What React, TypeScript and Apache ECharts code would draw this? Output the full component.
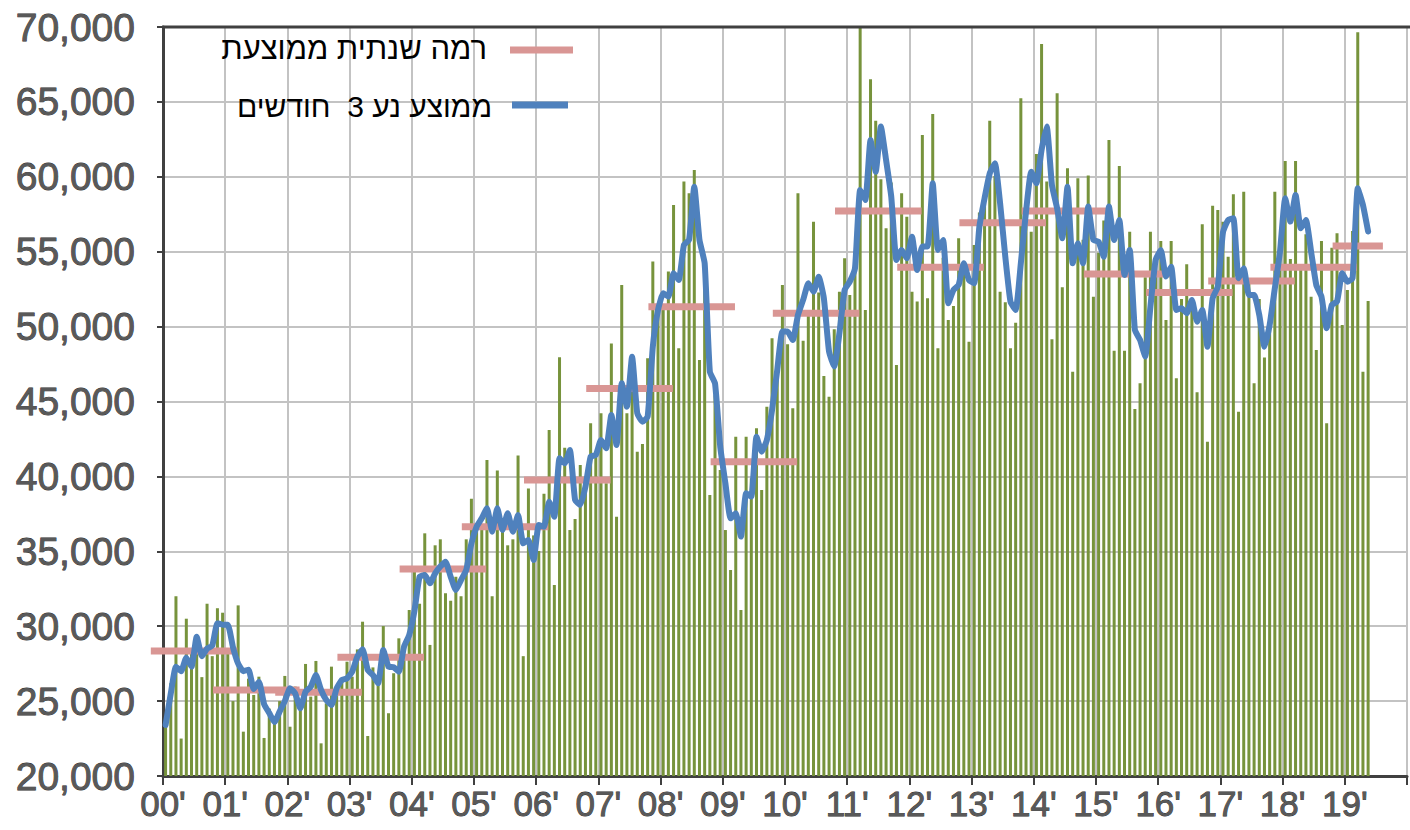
import React, { useEffect, useRef } from "react";
import * as echarts from "echarts";

// Year tick labels (one per January)
const yearLabels = [
  "00'", "01'", "02'", "03'", "04'", "05'", "06'", "07'", "08'", "09'",
  "10'", "11'", "12'", "13'", "14'", "15'", "16'", "17'", "18'", "19'",
];

// Monthly values, Jan 2000 .. May 2019 (one row per year)
const monthlyValues = [
  23300, 26200, 32000, 22500, 30500, 28500, 28900, 26600, 31500, 28000, 31200, 30900,
  28500, 25000, 31390, 22960, 26500, 25410, 26630, 22540, 24500, 24000, 25000, 26680,
  23290, 25970, 24410, 27480, 25300, 27680, 22180, 24850, 27300, 25400, 26530, 27630,
  26630, 28450, 30300, 22670, 27250, 26410, 30010, 24190, 26860, 29190, 27970, 31080,
  34000, 31500, 36200, 28750, 35400, 35800, 32200, 31700, 33300, 32000, 35800, 38500,
  36500, 36600, 41100, 32000, 40400, 36860, 35400, 35800, 41400, 28000, 39200, 36060,
  35020, 38840, 43100, 32750, 47950, 41910, 36420, 37160, 40760, 40010, 43540, 41300,
  44210, 39540, 48880, 37310, 52780, 44210, 46980, 41650, 42160, 47880, 54340, 51110,
  51210, 53680, 58120, 48550, 59680, 58900, 60460, 47770, 54460, 38760, 45410, 40430,
  36420, 33750, 42650, 31080, 42650, 39870, 43210, 39090, 44650, 49220, 47400, 52780,
  48830, 44550, 58900, 49060, 50710, 57000, 52280, 46700, 45320, 49820, 52330, 54560,
  52110, 55000, 70000, 51110, 66510, 63750, 59830, 56560, 59620, 47440, 58900, 57340,
  52330, 51670, 62790, 51890, 64200, 48550, 54590, 50440, 51380, 55900, 54340, 48990,
  55450, 57610, 58900, 63750, 60050, 52330, 51630, 48550, 50260, 65240, 57540, 56340,
  61520, 68870, 59680, 49150, 65570, 52620, 60570, 46990, 59900, 55800, 60080, 52000,
  54930, 57080, 62460, 48390, 60720, 48390, 56340, 44500, 46210, 53290, 56340, 53720,
  55720, 50440, 55720, 46550, 51850, 54160, 51560, 45610, 56830, 42320, 58070, 57790,
  57000, 54670, 58830, 44320, 59010, 53000, 46210, 51850, 47930, 50550, 59010, 55440,
  61060, 54520, 61060, 54130, 56170, 52000, 48440, 55720, 43540, 55270, 56230, 50110,
  52450, 56380, 69650, 46990, 51710,
];

// 3-month moving average
const movingAverage = [
  23400, 25500, 27300, 27000, 27900, 27300, 29300, 28000, 28500, 28700, 30200, 30100,
  30100, 28600, 27500, 27000, 27100, 25800, 26300, 24800, 24200, 23600, 24300, 25000,
  25850, 25520, 24520, 25630, 25960, 26740, 25740, 25070, 24740, 25850, 26410, 26520,
  26960, 27970, 28460, 27080, 26740, 26190, 28410, 27300, 27260, 26960, 28630, 29410,
  31000, 33300, 33420, 32860, 33530, 33980, 34310, 33300, 32420, 33080, 33750, 35530,
  36640, 37200, 37870, 36310, 37870, 36420, 37540, 36310, 37430, 35530, 35760, 34420,
  36760, 36640, 38310, 37310, 41210, 40870, 41760, 38430, 38090, 39310, 41320, 41430,
  42430, 41880, 44100, 42100, 46210, 44650, 47990, 44210, 43650, 43990, 48660, 51110,
  52220, 52000, 53560, 53110, 55450, 55800, 59340, 55780, 54230, 46990, 46210, 41990,
  39540, 37200, 37540, 35980, 38870, 38650, 42650, 41650, 42430, 44430, 47100, 49670,
  49670, 49100, 50770, 51780, 52890, 52330, 53330, 51890, 48330, 47330, 49560, 52440,
  53000, 53890, 59120, 58450, 62460, 60340, 63350, 61120, 58670, 54450, 55120, 54560,
  56000, 53780, 55340, 55340, 59570, 55120, 55780, 51560, 52440, 52780, 54230, 53110,
  52900, 56670, 58570, 60230, 60900, 58230, 54670, 51670, 51110, 54230, 57680, 60340,
  59570, 61790, 63350, 59450, 57900, 55900, 59340, 54230, 55560, 54230, 58010, 55780,
  55670, 54670, 58010, 55780, 57120, 53450, 55120, 49780, 49110, 48000, 51330, 54450,
  55120, 53340, 54000, 51110, 51220, 50890, 51780, 50330, 51110, 48660, 51890, 52670,
  56300, 57120, 57230, 53230, 53890, 52110, 52110, 50780, 48660, 50110, 52560, 55000,
  58570, 57010, 58790, 56570, 57120, 55000, 52780, 52000, 49890, 51450, 51670, 53560,
  52990, 53230, 59230, 58120, 56350,
];

// Annual average level (pink dashes), 2000 .. 2019
const annualAverage = [
  28345, 25740, 25590, 27920, 33820, 36640, 39760, 45860, 51330, 40980,
  50890, 57720, 53960, 56940, 57720, 53510, 52270, 53050, 53960, 55380,
];

const legendAnnual = "רמה שנתית ממוצעת";
const legendMoving = "ממוצע נע 3  חודשים";

const GREEN = "#77933c";
const PINK = "#d99694";
const BLUE = "#4f81bd";
const FONT = "'Liberation Sans', Arial, sans-serif";
const NARROW = "'Liberation Sans Narrow', 'Arial Narrow', 'Liberation Sans', sans-serif";

export default function App() {
  const ref = useRef<HTMLDivElement>(null);

  useEffect(() => {
    if (!ref.current) return;
    const chart = echarts.init(ref.current, null, { renderer: "svg" });

    const barData = monthlyValues.map((v, i) => [i + 0.5, v]);
    const maData = movingAverage.map((v, i) => [i + 0.5, v]);
    const annualData = annualAverage.map((v, y) => {
      const start = y * 12;
      const n = Math.min(12, monthlyValues.length - start);
      return [start, start + n, v];
    });
    const EXT = 2.35; // dash overhang, in months

    chart.setOption({
      animation: false,
      grid: { left: 163, right: 2, top: 27, bottom: 54, containLabel: false },
      xAxis: {
        type: "value",
        min: 0,
        max: 240,
        interval: 12,
        axisLine: { show: true, onZero: false, lineStyle: { color: "#404040", width: 3 } },
        axisTick: { show: true, length: 9, lineStyle: { color: "#404040", width: 2 } },
        axisLabel: {
          formatter: (v: number) => (v < 240 ? yearLabels[Math.round(v / 12)] : ""),
          fontFamily: NARROW,
          fontSize: 35,
          color: "#595959",
          textBorderColor: "#2a2a2a",
          textBorderWidth: 0.8,
          margin: 10,
        },
        splitLine: { show: true, lineStyle: { color: "#c3c3c3", width: 2 } },
      },
      yAxis: {
        type: "value",
        min: 20000,
        max: 70000,
        interval: 5000,
        axisLine: { show: true, lineStyle: { color: "#404040", width: 3 } },
        axisTick: { show: true, length: 6, lineStyle: { color: "#404040", width: 2 } },
        axisLabel: {
          formatter: (v: number) => v.toLocaleString("en-US"),
          fontFamily: NARROW,
          fontSize: 39,
          color: "#595959",
          textBorderColor: "#2a2a2a",
          textBorderWidth: 0.8,
          margin: 28,
        },
        splitLine: { show: true, lineStyle: { color: "#c3c3c3", width: 2 } },
      },
      graphic: [
        {
          type: "line",
          shape: { x1: 162, y1: 27, x2: 1410, y2: 27 },
          style: { stroke: "#404040", lineWidth: 3 },
          z: 10,
        },
        {
          type: "line",
          shape: { x1: 510, y1: 50, x2: 573, y2: 50 },
          style: { stroke: PINK, lineWidth: 7 },
          z: 10,
        },
        {
          type: "text",
          x: 487,
          y: 48,
          style: {
            text: legendAnnual,
            fontFamily: FONT,
            fontSize: 31,
            fill: "#000",
            textAlign: "right",
            textVerticalAlign: "middle",
          },
          z: 10,
        },
        {
          type: "line",
          shape: { x1: 512, y1: 105, x2: 568, y2: 105 },
          style: { stroke: BLUE, lineWidth: 7 },
          z: 10,
        },
        {
          type: "text",
          x: 492,
          y: 106,
          style: {
            text: legendMoving,
            fontFamily: FONT,
            fontSize: 30,
            fill: "#000",
            textAlign: "right",
            textVerticalAlign: "middle",
          },
          z: 10,
        },
      ],
      series: [
        {
          type: "bar",
          data: barData,
          barWidth: 3,
          itemStyle: { color: GREEN },
          z: 2,
        },
        {
          type: "custom",
          data: annualData,
          encode: { x: [0, 1], y: 2 },
          clip: false,
          z: 3,
          renderItem: (params: any, api: any) => {
            const s = api.value(0);
            const e = api.value(1);
            const v = api.value(2);
            const p1 = api.coord([s - EXT, v]);
            const p2 = api.coord([e + EXT, v]);
            return {
              type: "line",
              shape: { x1: p1[0], y1: p1[1], x2: p2[0], y2: p2[1] },
              style: { stroke: PINK, lineWidth: 7 },
            };
          },
        },
        {
          type: "line",
          data: maData,
          showSymbol: false,
          symbol: "none",
          smooth: 0.15,
          lineStyle: { color: BLUE, width: 6, join: "round", cap: "round" },
          z: 4,
        },
      ],
    });

    return () => chart.dispose();
  }, []);

  return <div ref={ref} style={{ width: 1410, height: 830, position: "absolute", left: 0, top: 0 }} />;
}
